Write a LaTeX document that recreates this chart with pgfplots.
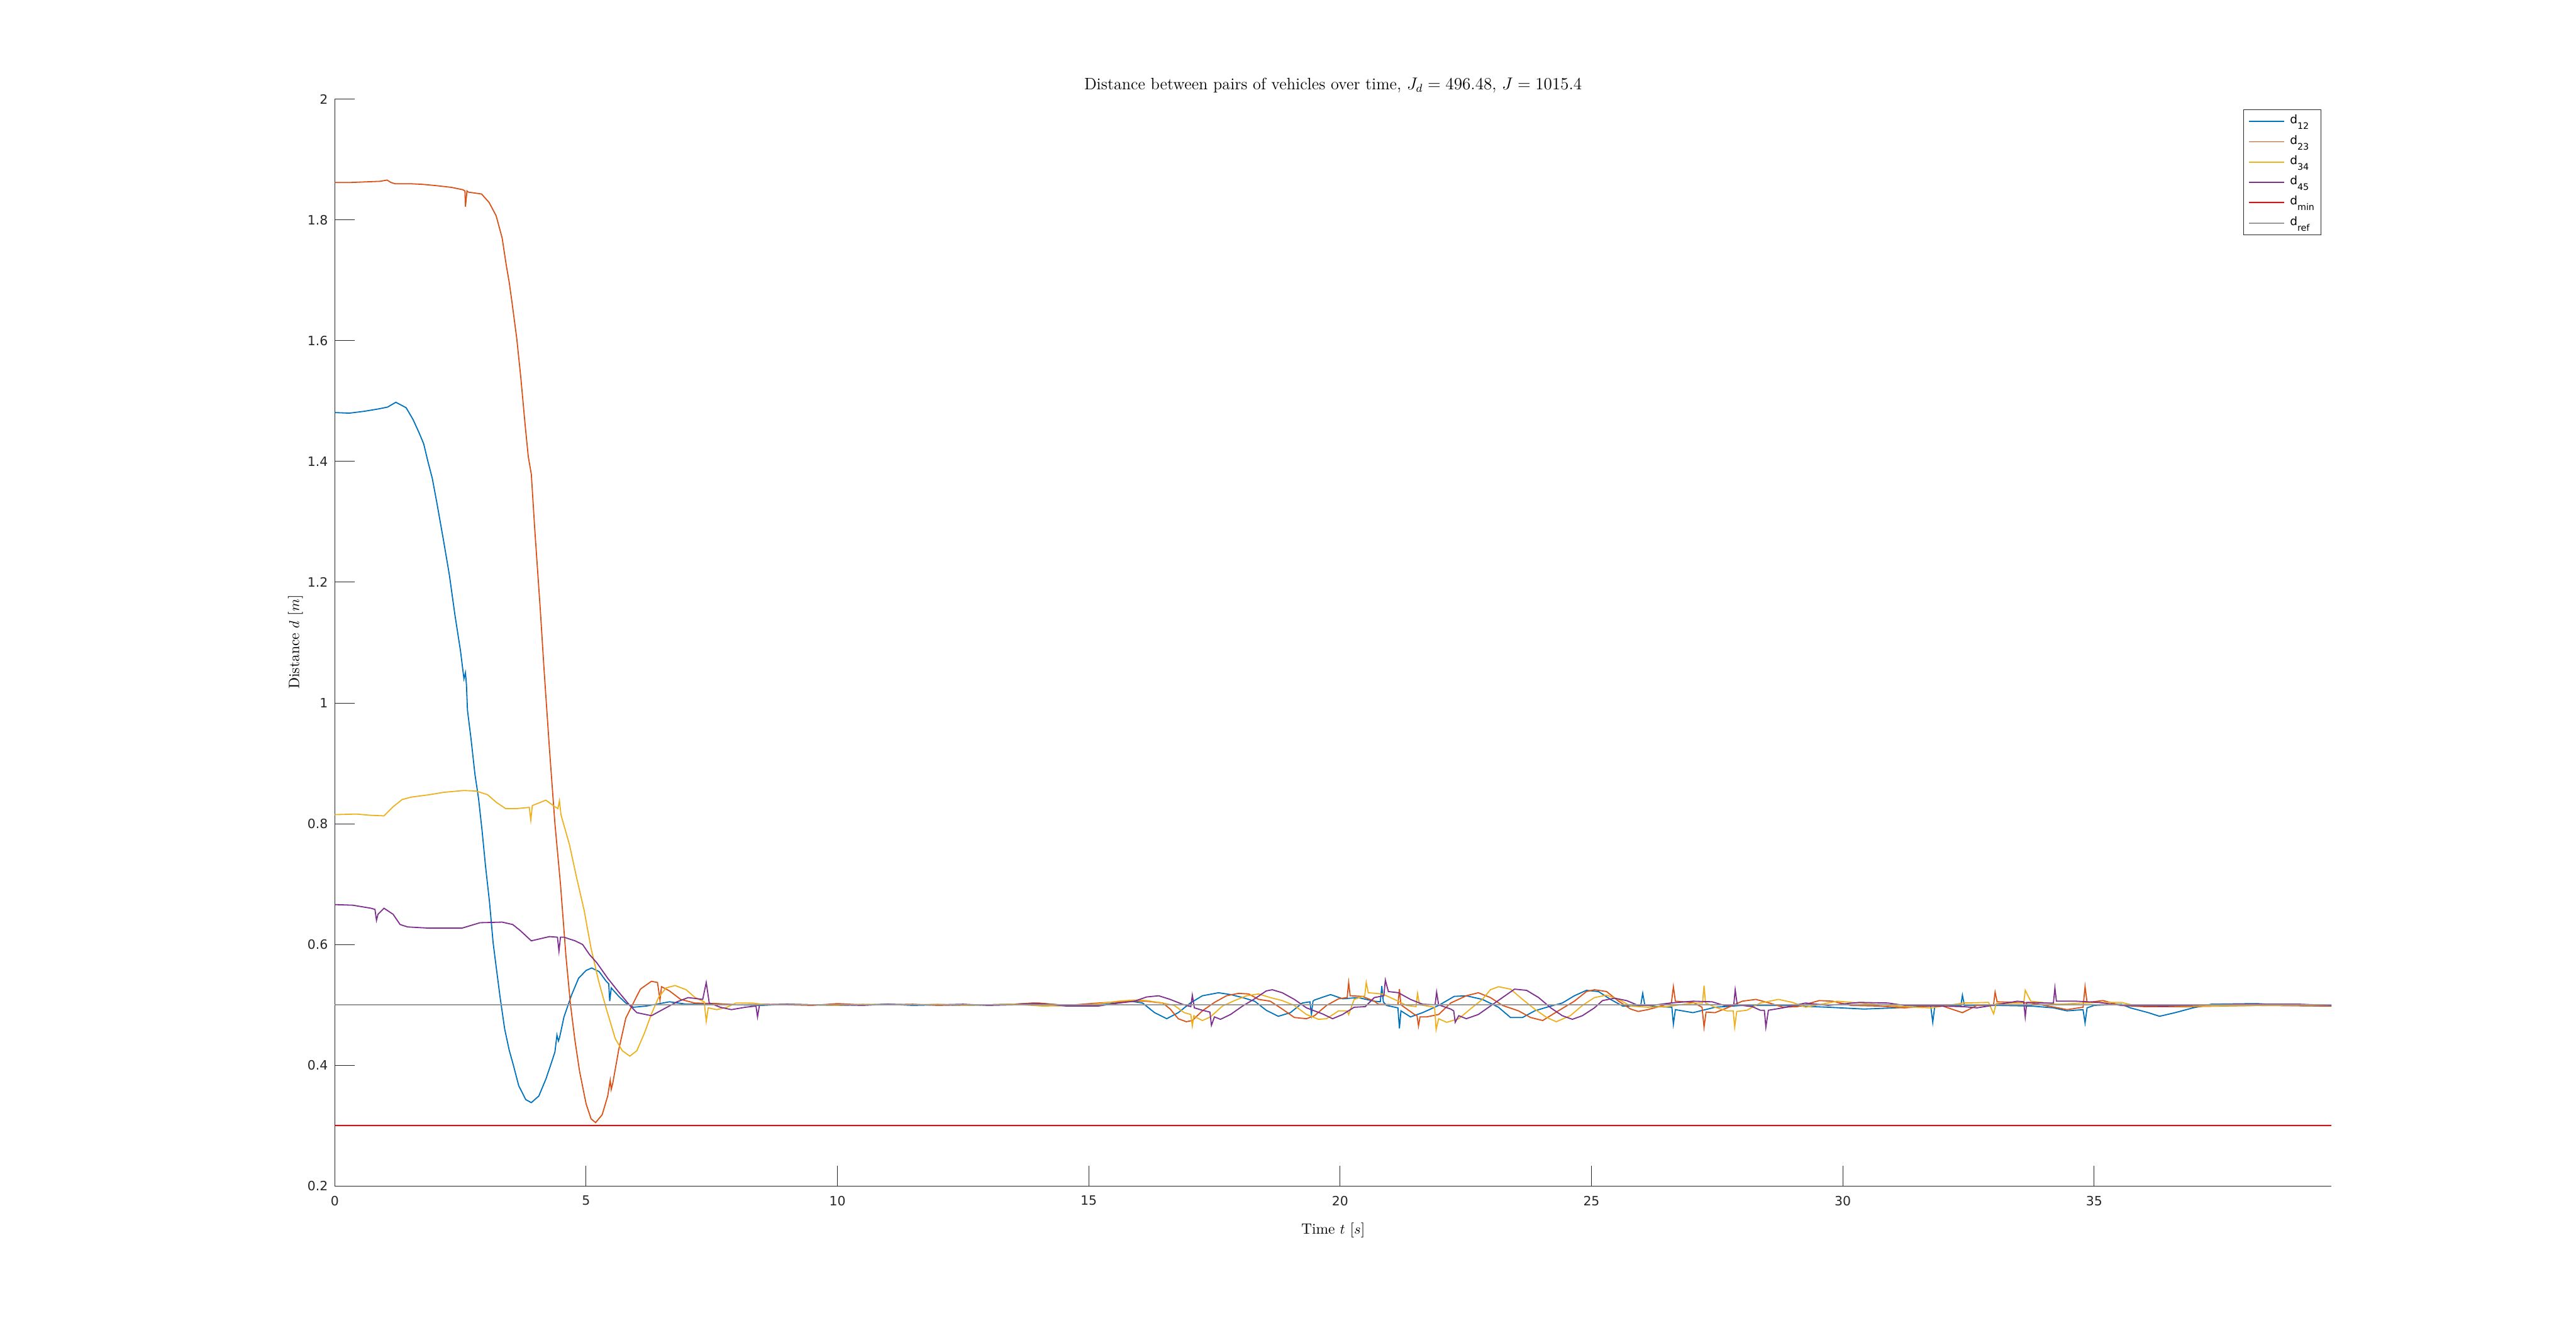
\documentclass[border=0pt]{standalone}
\usepackage{fontspec}
\setsansfont{DejaVu Sans}
\usepackage{pgfplots}
\pgfplotsset{compat=1.18}
\definecolor{c1}{rgb}{0,0.447,0.741}
\definecolor{c2}{rgb}{0.85,0.325,0.098}
\definecolor{c3}{rgb}{0.929,0.694,0.125}
\definecolor{c4}{rgb}{0.494,0.184,0.556}
\definecolor{cmin}{rgb}{1,0,0}
\definecolor{cref}{rgb}{0.6,0.6,0.6}
\definecolor{axc}{rgb}{0.15,0.15,0.15}
\newcommand{\legsub}[1]{\raisebox{-4pt}{\fontsize{6.3pt}{7pt}\selectfont #1}}
\newcommand{\legent}[1]{\makebox[18.4pt][l]{\fontsize{8.2pt}{9pt}\selectfont\sffamily d#1}}
\begin{document}
\begin{tikzpicture}
\path[use as bounding box] (0,0) rectangle (1806.8pt,934.8pt);
\begin{axis}[
 at={(234.8pt,102.8pt)}, anchor=south west, scale only axis,
 width=1400.4pt, height=762.4pt,
 xmin=0, xmax=39.72, ymin=0.2, ymax=2,
 axis x line*=bottom, axis y line*=left,
 axis line style={-, draw=axc, line width=0.4pt},
 xtick={0,5,10,15,20,25,30,35},
 ytick={0.2,0.4,0.6,0.8,1,1.2,1.4,1.6,1.8,2},
 tick align=inside, major tick length=14pt,
 tick style={draw=axc, line width=0.4pt},
 /pgf/number format/assume math mode=true,
 ticklabel style={font=\fontsize{9pt}{10pt}\selectfont\sffamily, text=axc},
 yticklabel style={inner sep=0pt, xshift=-4.6pt},
 xticklabel style={inner sep=0pt, yshift=-6.8pt},
 legend style={at={(1,1)}, anchor=north east, xshift=-7pt, yshift=-7pt, draw=axc, line width=0.4pt, fill=white, inner xsep=3.4pt, inner ysep=1.28pt, row sep=0pt, nodes={inner sep=0pt, anchor=west, text height=8.72pt, text depth=5.52pt}, /tikz/every odd column/.append style={column sep=3.6pt}},
 legend image code/.code={\draw[#1] (0pt,0pt) -- (24.6pt,0pt);},
 legend cell align=left,
]
\addplot[c1, line width=0.8pt] coordinates {
(0,1.481) (0.29,1.480) (0.58,1.483) (0.87,1.487) (1.05,1.490) (1.215,1.498) (1.42,1.489) (1.56,1.469) (1.68,1.447) (1.77,1.429) (1.85,1.401) (1.94,1.372) (2.03,1.332) (2.17,1.266) (2.28,1.212) (2.39,1.146) (2.50,1.087) (2.57,1.040) (2.60,1.050) (2.62,1.030) (2.64,0.988) (2.71,0.941) (2.79,0.881) (2.86,0.842) (2.93,0.789) (3.00,0.729) (3.08,0.669) (3.15,0.603) (3.22,0.557) (3.29,0.512) (3.38,0.46) (3.47,0.425) (3.55,0.401) (3.66,0.366) (3.80,0.343) (3.91,0.338) (4.06,0.349) (4.20,0.377) (4.31,0.404) (4.38,0.422) (4.42,0.45) (4.45,0.44) (4.47,0.445) (4.56,0.480) (4.71,0.516) (4.85,0.544) (5.0,0.557) (5.11,0.561) (5.26,0.555) (5.40,0.539) (5.45,0.535) (5.47,0.506) (5.50,0.528) (5.65,0.514) (5.79,0.503) (5.94,0.496) (6.2,0.498) (6.66,0.505) (7.0,0.501) (7.5,0.502) (8,0.500) (8.5,0.499) (9,0.501) (9.5,0.500) (10,0.499) (10.5,0.500) (11,0.501) (11.5,0.499) (12,0.500) (12.5,0.499) (13,0.500) (13.5,0.501) (13.9,0.503) (14.56,0.499) (15.35,0.501) (15.83,0.506) (16.07,0.503) (16.31,0.487) (16.55,0.477) (16.78,0.487) (17.02,0.503) (17.26,0.515) (17.58,0.520) (17.82,0.517) (18.06,0.512) (18.30,0.506) (18.53,0.491) (18.77,0.481) (19.01,0.487) (19.25,0.503) (19.40,0.505) (19.43,0.484) (19.46,0.506) (19.49,0.508) (19.81,0.517) (20.05,0.510) (20.36,0.512) (20.68,0.506) (20.80,0.505) (20.83,0.531) (20.86,0.505) (20.92,0.499) (21.15,0.495) (21.18,0.461) (21.21,0.49) (21.40,0.480) (21.64,0.487) (21.96,0.499) (22.27,0.514) (22.51,0.515) (22.83,0.509) (23.15,0.496) (23.39,0.479) (23.63,0.479) (23.87,0.490) (24.11,0.496) (24.42,0.503) (24.66,0.515) (24.9,0.524) (25.14,0.522) (25.38,0.509) (25.62,0.498) (25.86,0.498) (25.98,0.499) (26.02,0.519) (26.06,0.500) (26.30,0.497) (26.60,0.496) (26.63,0.468) (26.67,0.492) (27.02,0.487) (27.46,0.496) (28.0,0.499) (28.81,0.499) (29.71,0.496) (30.42,0.493) (31.05,0.495) (31.75,0.498) (31.79,0.471) (31.83,0.498) (32.35,0.499) (32.38,0.516) (32.42,0.499) (33.12,0.499) (33.74,0.498) (34.19,0.495) (34.46,0.490) (34.78,0.492) (34.82,0.470) (34.86,0.495) (35.0,0.499) (35.54,0.501) (35.72,0.495) (36.08,0.487) (36.3,0.481) (36.61,0.487) (36.97,0.495) (37.33,0.501) (38.23,0.502) (38.86,0.499) (39.72,0.498)
};
\addlegendentry{\legent{\legsub{12}}}
\addplot[c2, line width=0.8pt] coordinates {
(0,1.862) (0.3,1.862) (0.6,1.863) (0.9,1.864) (1.04,1.866) (1.12,1.862) (1.2,1.860) (1.5,1.860) (1.74,1.859) (2.0,1.857) (2.32,1.854) (2.55,1.850) (2.59,1.848) (2.6,1.822) (2.63,1.848) (2.66,1.846) (2.92,1.843) (3.07,1.829) (3.21,1.807) (3.33,1.770) (3.41,1.726) (3.47,1.697) (3.53,1.661) (3.62,1.604) (3.70,1.540) (3.79,1.458) (3.85,1.408) (3.91,1.379) (3.98,1.286) (4.09,1.153) (4.16,1.060) (4.27,0.925) (4.38,0.80) (4.49,0.70) (4.60,0.58) (4.69,0.50) (4.78,0.44) (4.87,0.39) (5.0,0.336) (5.10,0.311) (5.19,0.305) (5.32,0.318) (5.43,0.349) (5.48,0.375) (5.50,0.36) (5.53,0.37) (5.65,0.426) (5.79,0.478) (5.94,0.503) (6.08,0.526) (6.30,0.539) (6.42,0.537) (6.45,0.52) (6.47,0.508) (6.50,0.530) (6.66,0.523) (6.88,0.509) (7.16,0.503) (7.6,0.502) (8,0.500) (8.5,0.501) (9,0.500) (9.5,0.499) (10,0.502) (10.5,0.500) (11,0.500) (11.5,0.501) (12,0.499) (12.5,0.500) (13,0.500) (13.5,0.501) (14.0,0.503) (14.56,0.499) (15.19,0.503) (15.83,0.506) (16.15,0.506) (16.47,0.503) (16.62,0.493) (16.78,0.477) (16.94,0.472) (17.06,0.474) (17.26,0.490) (17.5,0.504) (17.74,0.515) (17.98,0.519) (18.18,0.518) (18.38,0.509) (18.61,0.506) (18.85,0.493) (19.09,0.479) (19.33,0.477) (19.49,0.482) (19.73,0.499) (19.97,0.510) (20.14,0.512) (20.17,0.537) (20.20,0.515) (20.44,0.514) (20.68,0.506) (20.76,0.501) (21.15,0.500) (21.18,0.526) (21.21,0.500) (21.48,0.484) (21.53,0.482) (21.56,0.465) (21.59,0.480) (21.72,0.480) (21.96,0.484) (22.2,0.503) (22.51,0.515) (22.75,0.520) (22.99,0.512) (23.23,0.499) (23.55,0.490) (23.79,0.479) (24.03,0.474) (24.34,0.490) (24.66,0.506) (24.9,0.522) (25.06,0.525) (25.3,0.522) (25.54,0.506) (25.78,0.493) (25.93,0.489) (26.12,0.492) (26.3,0.496) (26.59,0.503) (26.63,0.530) (26.67,0.506) (27.02,0.504) (27.20,0.496) (27.24,0.463) (27.28,0.488) (27.46,0.487) (27.73,0.496) (28.0,0.506) (28.27,0.509) (28.54,0.503) (28.81,0.496) (29.1,0.497) (29.53,0.507) (29.8,0.506) (30.16,0.499) (30.7,0.498) (31.23,0.495) (31.95,0.499) (32.38,0.487) (32.67,0.499) (33.0,0.500) (33.03,0.521) (33.07,0.505) (33.74,0.503) (34.28,0.495) (34.46,0.492) (34.78,0.496) (34.82,0.530) (34.86,0.504) (35.18,0.507) (35.54,0.499) (36.0,0.497) (36.9,0.497) (38.23,0.499) (39.72,0.498)
};
\addlegendentry{\legent{\legsub{23}}}
\addplot[c3, line width=0.8pt] coordinates {
(0,0.815) (0.43,0.816) (0.7,0.814) (0.98,0.813) (1.16,0.828) (1.34,0.840) (1.52,0.844) (1.88,0.848) (2.17,0.852) (2.57,0.855) (2.82,0.854) (3.04,0.848) (3.22,0.835) (3.40,0.825) (3.62,0.825) (3.87,0.827) (3.90,0.806) (3.93,0.830) (4.05,0.834) (4.20,0.839) (4.38,0.828) (4.44,0.825) (4.47,0.838) (4.50,0.815) (4.53,0.806) (4.67,0.765) (4.81,0.711) (4.96,0.657) (5.10,0.593) (5.25,0.539) (5.40,0.494) (5.58,0.444) (5.72,0.424) (5.87,0.415) (6.01,0.424) (6.16,0.453) (6.30,0.485) (6.44,0.512) (6.59,0.528) (6.77,0.532) (6.99,0.525) (7.17,0.512) (7.35,0.505) (7.39,0.473) (7.43,0.495) (7.60,0.492) (7.8,0.496) (7.98,0.503) (8.3,0.503) (8.6,0.500) (9,0.501) (9.5,0.500) (10,0.499) (10.5,0.501) (11,0.500) (11.5,0.500) (12,0.501) (12.5,0.499) (13,0.500) (13.5,0.501) (14.08,0.498) (14.9,0.499) (15.59,0.506) (15.91,0.508) (16.15,0.507) (16.47,0.503) (16.7,0.499) (16.9,0.487) (17.03,0.484) (17.06,0.465) (17.09,0.482) (17.14,0.479) (17.26,0.474) (17.42,0.480) (17.66,0.498) (17.9,0.507) (18.14,0.515) (18.38,0.518) (18.61,0.512) (18.85,0.507) (19.09,0.499) (19.33,0.484) (19.57,0.476) (19.73,0.477) (19.97,0.490) (20.14,0.490) (20.17,0.484) (20.28,0.509) (20.49,0.515) (20.52,0.537) (20.56,0.520) (20.84,0.518) (21.08,0.509) (21.32,0.499) (21.51,0.497) (21.54,0.519) (21.58,0.500) (21.88,0.496) (21.91,0.459) (21.96,0.477) (22.12,0.471) (22.36,0.477) (22.59,0.493) (22.83,0.509) (22.99,0.525) (23.15,0.530) (23.39,0.526) (23.63,0.509) (23.87,0.493) (24.11,0.479) (24.3,0.472) (24.58,0.482) (24.82,0.499) (25.06,0.512) (25.3,0.516) (25.54,0.509) (25.78,0.498) (26.12,0.496) (26.5,0.497) (27.02,0.503) (27.21,0.503) (27.24,0.532) (27.27,0.503) (27.46,0.496) (27.69,0.490) (27.82,0.490) (27.85,0.463) (27.89,0.489) (28.09,0.491) (28.36,0.503) (28.72,0.509) (29.0,0.504) (29.26,0.496) (29.89,0.506) (30.33,0.503) (30.9,0.499) (31.4,0.496) (31.77,0.495) (32.4,0.503) (32.9,0.504) (33.0,0.485) (33.05,0.502) (33.60,0.503) (33.63,0.524) (33.74,0.506) (34.28,0.501) (35.09,0.504) (35.54,0.504) (35.8,0.499) (36.5,0.498) (37.3,0.498) (39.72,0.500)
};
\addlegendentry{\legent{\legsub{34}}}
\addplot[c4, line width=0.8pt] coordinates {
(0,0.666) (0.36,0.665) (0.72,0.660) (0.80,0.658) (0.83,0.640) (0.86,0.650) (0.98,0.660) (1.16,0.650) (1.30,0.633) (1.45,0.629) (1.88,0.627) (2.53,0.627) (2.89,0.636) (3.33,0.637) (3.54,0.633) (3.69,0.623) (3.91,0.606) (4.27,0.613) (4.43,0.612) (4.46,0.589) (4.49,0.612) (4.56,0.612) (4.78,0.606) (4.93,0.600) (5.07,0.583) (5.21,0.570) (5.43,0.544) (5.65,0.521) (5.87,0.499) (6.01,0.487) (6.30,0.482) (6.52,0.492) (6.81,0.505) (7.03,0.512) (7.32,0.509) (7.39,0.537) (7.45,0.503) (7.67,0.496) (7.89,0.492) (8.17,0.496) (8.38,0.498) (8.41,0.480) (8.45,0.500) (9,0.501) (9.5,0.500) (10,0.500) (10.5,0.499) (11,0.501) (11.5,0.500) (12,0.500) (12.5,0.501) (13,0.499) (13.5,0.500) (14,0.502) (14.56,0.498) (15.19,0.498) (15.6,0.503) (15.91,0.506) (16.15,0.513) (16.39,0.515) (16.62,0.509) (16.86,0.501) (17.03,0.497) (17.06,0.516) (17.10,0.495) (17.26,0.491) (17.41,0.488) (17.44,0.466) (17.5,0.480) (17.62,0.476) (17.82,0.484) (18.06,0.498) (18.30,0.510) (18.53,0.523) (18.65,0.525) (18.85,0.520) (19.09,0.509) (19.33,0.495) (19.65,0.485) (19.85,0.477) (20.05,0.484) (20.28,0.496) (20.5,0.497) (20.68,0.512) (20.87,0.515) (20.9,0.541) (20.96,0.522) (21.16,0.520) (21.40,0.509) (21.64,0.501) (21.89,0.500) (21.92,0.521) (21.96,0.500) (22.2,0.493) (22.26,0.490) (22.29,0.471) (22.36,0.482) (22.51,0.477) (22.75,0.484) (22.99,0.498) (23.23,0.512) (23.47,0.526) (23.71,0.524) (23.95,0.512) (24.19,0.495) (24.42,0.482) (24.62,0.476) (24.82,0.482) (25.06,0.495) (25.22,0.507) (25.46,0.511) (25.7,0.507) (25.93,0.499) (26.2,0.499) (26.57,0.503) (27.02,0.506) (27.4,0.505) (27.64,0.499) (27.83,0.499) (27.86,0.525) (27.9,0.500) (28.2,0.497) (28.36,0.491) (28.44,0.491) (28.47,0.463) (28.52,0.491) (28.81,0.495) (29.26,0.503) (29.71,0.499) (30.33,0.504) (30.9,0.503) (31.23,0.499) (31.95,0.498) (32.4,0.497) (32.67,0.495) (33.12,0.501) (33.47,0.506) (33.60,0.505) (33.63,0.480) (33.66,0.504) (34.0,0.503) (34.19,0.503) (34.22,0.528) (34.25,0.506) (34.64,0.506) (35.09,0.504) (35.54,0.499) (36.4,0.498) (37.8,0.501) (39.1,0.501) (39.72,0.499)
};
\addlegendentry{\legent{\legsub{45}}}
\addplot[cmin, line width=0.8pt] coordinates {(0,0.3) (39.72,0.3)};
\addlegendentry{\legent{\legsub{min}}}
\addplot[cref, line width=0.9pt] coordinates {(0,0.5) (39.72,0.5)};
\addlegendentry{\legent{\legsub{ref}}}
\end{axis}
\node[anchor=center, inner sep=0pt, font=\fontsize{11.6pt}{13pt}\selectfont] at (935pt,874.8pt) {Distance between pairs of vehicles over time, $J_d = 496.48$, $J = 1015.4$};
\node[anchor=center, inner sep=0pt, font=\fontsize{10.4pt}{12pt}\selectfont] at (935pt,71.6pt) {Time $t$ [$s$]};
\node[anchor=center, inner sep=0pt, rotate=90, font=\fontsize{10.4pt}{12pt}\selectfont] at (207.2pt,484.4pt) {Distance $d$ [$m$]};
\end{tikzpicture}
\end{document}
